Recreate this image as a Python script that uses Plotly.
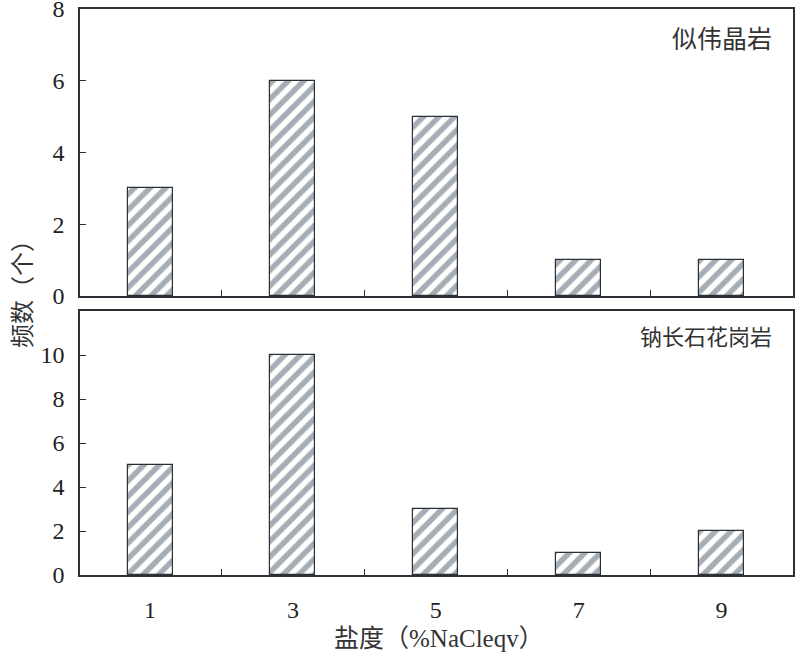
import plotly.graph_objects as go
from plotly.subplots import make_subplots

salinity = [1, 3, 5, 7, 9]
pegmatite_counts = [3, 6, 5, 1, 1]
albite_granite_counts = [5, 10, 3, 1, 2]
top_label = "似伟晶岩"
bottom_label = "钠长石花岗岩"
x_title = "盐度（%NaCleqv）"
y_title = "频数（个）"

W, H = 800, 659
ml, mr, mt, mb = 80, 7, 9, 84
ph = H - mt - mb
pw = W - ml - mr

def py(pix):
    return (H - mb - pix) / ph

def px(pix):
    return (pix - ml) / pw

fig = make_subplots(rows=2, cols=1, shared_xaxes=False)

bar_style = dict(
    width=0.63,
    marker=dict(
        color="white",
        line=dict(color="#2b2f36", width=1.2),
        pattern=dict(shape="/", fgcolor="#4c5c6e", bgcolor="white", size=11, solidity=0.5),
    ),
    showlegend=False,
)
fig.add_trace(go.Bar(x=salinity, y=pegmatite_counts, **bar_style), row=1, col=1)
fig.add_trace(go.Bar(x=salinity, y=albite_granite_counts, **bar_style), row=2, col=1)

num_font = dict(family="Liberation Serif, Times New Roman, serif", size=24, color="#222")
mixed_font = "Liberation Serif, Noto Sans CJK SC"
cjk_font = "Noto Sans CJK SC"

axis_common = dict(showline=True, linecolor="#2b2f36", linewidth=1.5, mirror=True,
                   showgrid=False, zeroline=False, automargin=False)
minor_ticks = dict(tickvals=[2, 4, 6, 8], ticks="inside", ticklen=6, tickcolor="#2b2f36", tickwidth=1.2)

fig.update_layout(
    width=W, height=H,
    margin=dict(l=ml, r=mr, t=mt, b=mb),
    paper_bgcolor="white", plot_bgcolor="white",
    bargap=0,
    xaxis=dict(domain=[0, 1], range=[0.02, 10], tickvals=salinity, ticks="", showticklabels=False,
               minor=minor_ticks, anchor="y", **axis_common),
    yaxis=dict(domain=[py(296), 1], range=[0, 8], tickvals=[0, 2, 4, 6, 8], ticks="inside",
               ticklen=6, tickcolor="#2b2f36", tickwidth=1.2, tickfont=num_font, ticklabelstandoff=9,
               ticklabeloverflow="allow", anchor="x", **axis_common),
    xaxis2=dict(domain=[0, 1], range=[0.02, 10], tickvals=salinity, ticks="", tickfont=num_font,
                ticklabelstandoff=12, minor=minor_ticks, anchor="y2", **axis_common),
    yaxis2=dict(domain=[0, py(311)], range=[0, 12], tickvals=[0, 2, 4, 6, 8, 10], ticks="inside",
                ticklen=6, tickcolor="#2b2f36", tickwidth=1.2, tickfont=num_font, ticklabelstandoff=9,
                ticklabeloverflow="allow", anchor="x2", **axis_common),
)

fig.add_annotation(text=top_label, xref="paper", yref="paper", x=px(774), y=py(37), xanchor="right",
                   yanchor="middle", showarrow=False, font=dict(family=cjk_font, size=25, color="#333"))
fig.add_annotation(text=bottom_label, xref="paper", yref="paper", x=px(774), y=py(335), xanchor="right",
                   yanchor="middle", showarrow=False, font=dict(family=cjk_font, size=22, color="#333"))
fig.add_annotation(text=x_title, xref="paper", yref="paper", x=px(439), y=py(638),
                   xanchor="center", yanchor="middle", showarrow=False,
                   font=dict(family=mixed_font, size=25, color="#333"))
fig.add_annotation(text=y_title, xref="paper", yref="paper", x=px(20), y=py(288),
                   xanchor="center", yanchor="middle", showarrow=False, textangle=-90,
                   font=dict(family=cjk_font, size=24, color="#333"))

fig.write_html("out.html", config={"displayModeBar": False},
               post_script="document.body.style.margin='0';document.body.style.overflow='hidden';")
